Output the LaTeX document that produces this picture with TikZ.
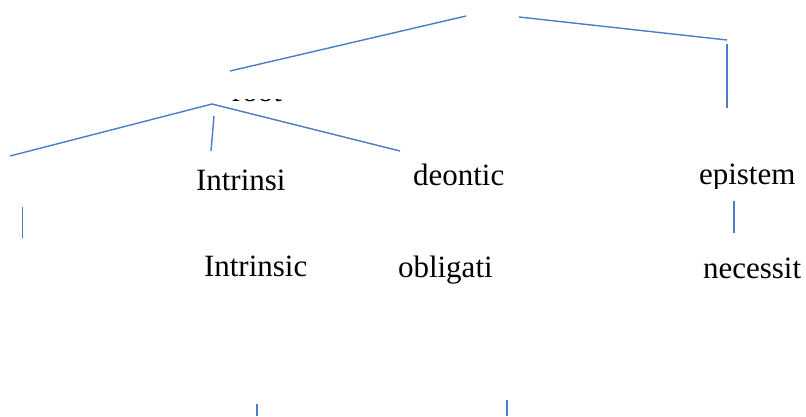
\documentclass[tikz,border=0pt]{standalone}
\usepackage{fontspec}
\setmainfont{Liberation Serif}
\begin{document}
\begin{tikzpicture}[x=1pt,y=-1pt,
  conn/.style={draw=lineblue,line width=1.4pt},
  lbl/.style={anchor=base west,inner sep=0pt,outer sep=0pt,font=\fontsize{31}{36}\selectfont}]
\definecolor{lineblue}{HTML}{4A7EC7}
\useasboundingbox[fill=white] (0,0) rectangle (806,416);
% coordinates
\coordinate (t1) at (230,71);
\coordinate (t2) at (466,16);
\coordinate (t3) at (519,17);
\coordinate (t4) at (727,40);
\coordinate (r1) at (727,44);
\coordinate (r2) at (727,108);
\coordinate (apex) at (212,104);
\coordinate (fl) at (10,156);
\coordinate (fm1) at (214,116);
\coordinate (fm2) at (211,151);
\coordinate (fr) at (400,151);
\coordinate (lv1) at (22.5,207);
\coordinate (lv2) at (22.5,238);
\coordinate (ev1) at (734,201);
\coordinate (ev2) at (734,233);
\coordinate (b1a) at (257,404);
\coordinate (b1b) at (257,416);
\coordinate (b2a) at (507,400);
\coordinate (b2b) at (507,416);
% connectors
\draw[conn] (t1) -- (t2);
\draw[conn] (t3) -- (t4);
\draw[conn] (r1) -- (r2);
\draw[conn] (apex) -- (fl);
\draw[conn] (fm1) -- (fm2);
\draw[conn] (apex) -- (fr);
\draw[conn] (lv1) -- (lv2);
\draw[conn] (ev1) -- (ev2);
\draw[conn] (b1a) -- (b1b);
\draw[conn] (b2a) -- (b2b);
% clipped word
\begin{scope}
\clip (225,99) rectangle (290,102.5);
\node[lbl] (root) at (232,101.5) {root};
\end{scope}
% labels
\node[lbl] (intr1) at (196,190) {Intrinsi};
\node[lbl] (intr2) at (204,276) {Intrinsic};
\node[lbl] (deon) at (413,185) {deontic};
\begin{scope}
\clip (690,150) rectangle (806,188);
\node[lbl] (epis) at (699,184) {epistem};
\end{scope}
\node[lbl] (obl) at (398,277) {obligati};
\node[lbl] (nec) at (703,278) {necessit};
\end{tikzpicture}
\end{document}
